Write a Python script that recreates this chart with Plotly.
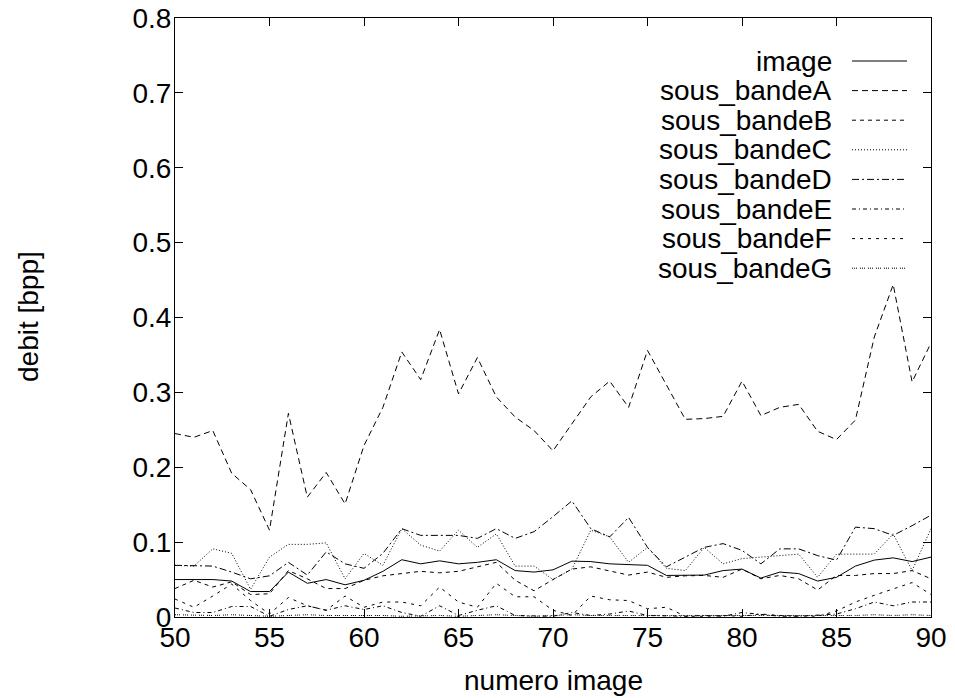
import plotly.graph_objects as go

x_vals = list(range(50, 91))

image = [0.050, 0.050, 0.050, 0.048, 0.034, 0.034, 0.060, 0.045, 0.050, 0.043,
         0.049, 0.061, 0.0765, 0.071, 0.075, 0.071, 0.073, 0.0765, 0.062, 0.060,
         0.063, 0.0746, 0.074, 0.071, 0.070, 0.069, 0.0555, 0.0555, 0.056, 0.062,
         0.064, 0.052, 0.060, 0.058, 0.048, 0.053, 0.068, 0.076, 0.079, 0.074, 0.080]

sous_bandeA = [0.245, 0.240, 0.249, 0.192, 0.170, 0.116, 0.272, 0.160, 0.193, 0.151,
               0.229, 0.280, 0.354, 0.317, 0.384, 0.298, 0.3465, 0.294, 0.267, 0.249,
               0.222, 0.258, 0.294, 0.315, 0.280, 0.356, 0.309, 0.264, 0.265, 0.268,
               0.315, 0.269, 0.280, 0.284, 0.248, 0.237, 0.263, 0.374, 0.444, 0.314, 0.366]

sous_bandeB = [0.038, 0.049, 0.040, 0.047, 0.030, 0.031, 0.062, 0.051, 0.038, 0.038,
               0.049, 0.055, 0.058, 0.061, 0.059, 0.061, 0.067, 0.073, 0.049, 0.035,
               0.050, 0.064, 0.067, 0.062, 0.056, 0.060, 0.053, 0.055, 0.0555, 0.053,
               0.064, 0.051, 0.0555, 0.051, 0.036, 0.0555, 0.0555, 0.058, 0.058, 0.062, 0.051]

sous_bandeC = [0.069, 0.068, 0.091, 0.085, 0.037, 0.080, 0.097, 0.097, 0.099, 0.051,
               0.085, 0.069, 0.118, 0.096, 0.088, 0.116, 0.093, 0.111, 0.068, 0.068,
               0.050, 0.064, 0.116, 0.107, 0.073, 0.093, 0.065, 0.062, 0.093, 0.071,
               0.078, 0.080, 0.082, 0.084, 0.053, 0.084, 0.084, 0.084, 0.111, 0.062, 0.118]

sous_bandeD = [0.069, 0.068, 0.068, 0.060, 0.051, 0.055, 0.073, 0.056, 0.087, 0.071,
               0.065, 0.085, 0.118, 0.109, 0.109, 0.109, 0.105, 0.118, 0.105, 0.114,
               0.134, 0.155, 0.118, 0.107, 0.133, 0.093, 0.067, 0.080, 0.093, 0.098,
               0.089, 0.071, 0.091, 0.091, 0.082, 0.076, 0.120, 0.118, 0.109, 0.122, 0.136]

sous_bandeE = [0.012, 0.006, 0.006, 0.014, 0.014, 0.001, 0.010, 0.015, 0.009, 0.015,
               0.010, 0.015, 0.006, 0.001, 0.015, 0.002, 0.009, 0.015, 0.002, 0.001,
               0.001, 0.006, 0.002, 0.004, 0.008, 0.002, 0.001, 0.001, 0.002, 0.001,
               0.006, 0.003, 0.001, 0.001, 0.002, 0.004, 0.011, 0.020, 0.015, 0.020, 0.020]

sous_bandeF = [0.024, 0.013, 0.028, 0.044, 0.022, 0.004, 0.026, 0.015, 0.009, 0.028,
               0.013, 0.020, 0.020, 0.015, 0.040, 0.020, 0.013, 0.045, 0.027, 0.027,
               0.009, 0.002, 0.028, 0.023, 0.022, 0.011, 0.013, 0.001, 0.001, 0.002,
               0.001, 0.004, 0.002, 0.001, 0.001, 0.008, 0.020, 0.029, 0.038, 0.046, 0.030]

sous_bandeG = [0.003, 0.002, 0.002, 0.003, 0.002, 0.001, 0.002, 0.003, 0.002, 0.002,
               0.003, 0.002, 0.001, 0.002, 0.002, 0.001, 0.002, 0.003, 0.002, 0.001,
               0.002, 0.003, 0.002, 0.002, 0.001, 0.002, 0.002, 0.001, 0.001, 0.002,
               0.002, 0.001, 0.002, 0.001, 0.001, 0.002, 0.002, 0.003, 0.002, 0.003, 0.002]

series_names = ["image", "sous_bandeA", "sous_bandeB", "sous_bandeC",
                "sous_bandeD", "sous_bandeE", "sous_bandeF", "sous_bandeG"]
series_values = [image, sous_bandeA, sous_bandeB, sous_bandeC,
                 sous_bandeD, sous_bandeE, sous_bandeF, sous_bandeG]
dash_styles = ["solid", "6px,4px", "4px,4px", "1px,2px",
               "7px,3px,2px,3px", "4px,3px,1px,3px", "3px,5px", "1px,1px,1px,1px,1px,3px"]

x_ticks = [50, 55, 60, 65, 70, 75, 80, 85, 90]
y_ticks = [0, 0.1, 0.2, 0.3, 0.4, 0.5, 0.6, 0.7, 0.8]
y_tick_labels = ["0", "0.1", "0.2", "0.3", "0.4", "0.5", "0.6", "0.7", "0.8"]

FONT = "Liberation Sans, Arial, Helvetica, sans-serif"
FS = 28

fig = go.Figure()
for name, vals, dash in zip(series_names, series_values, dash_styles):
    fig.add_trace(go.Scatter(x=x_vals, y=vals, mode="lines", name=name,
                             line=dict(color="black", width=1, dash=dash),
                             showlegend=False))

W, H = 955, 698
L, R, T, B = 175, 24, 18, 81
PW, PH = W - L - R, H - T - B


def px_x(p):
    return (p - L) / PW


def px_y(p):
    return 1 - (p - T) / PH


# gnuplot-style key: text right-aligned, sample line to the right
key_top = 61
key_step = 29.6
for i, (name, dash) in enumerate(zip(series_names, dash_styles)):
    yc = key_top + i * key_step
    fig.add_annotation(x=px_x(834), y=px_y(yc), xref="paper", yref="paper",
                       text=name, showarrow=False, xanchor="right", yanchor="middle",
                       font=dict(family=FONT, size=FS, color="black"))
    fig.add_shape(type="line", xref="paper", yref="paper",
                  x0=px_x(852), x1=px_x(907), y0=px_y(yc), y1=px_y(yc),
                  line=dict(color="black", width=1, dash=dash))

fig.add_annotation(x=px_x(553), y=px_y(680), xref="paper", yref="paper",
                   text="numero image", showarrow=False, xanchor="center", yanchor="middle",
                   font=dict(family=FONT, size=FS, color="black"))
fig.add_annotation(x=px_x(28), y=px_y(317), xref="paper", yref="paper",
                   text="debit [bpp]", showarrow=False, textangle=-90,
                   xanchor="center", yanchor="middle",
                   font=dict(family=FONT, size=FS, color="black"))

axis_common = dict(showline=True, linecolor="black", linewidth=1, mirror="ticks",
                   ticks="inside", ticklen=8, tickcolor="black", tickwidth=1,
                   showgrid=False, zeroline=False, automargin=False,
                   tickfont=dict(family=FONT, size=FS, color="black"))

fig.update_xaxes(range=[50, 90], tickvals=x_ticks, ticklabelstandoff=-5, **axis_common)
fig.update_yaxes(range=[0, 0.8], tickvals=y_ticks, ticktext=y_tick_labels,
                 ticklabelstandoff=-3, **axis_common)

fig.update_layout(width=W, height=H, margin=dict(l=L, r=R, t=T, b=B, autoexpand=False),
                  plot_bgcolor="white", paper_bgcolor="white",
                  font=dict(family=FONT, size=FS, color="black"))

fig.write_html("out.html", config={"displayModeBar": False, "staticPlot": True},
               post_script="document.body.style.margin='0px';document.body.style.overflow='hidden';")
